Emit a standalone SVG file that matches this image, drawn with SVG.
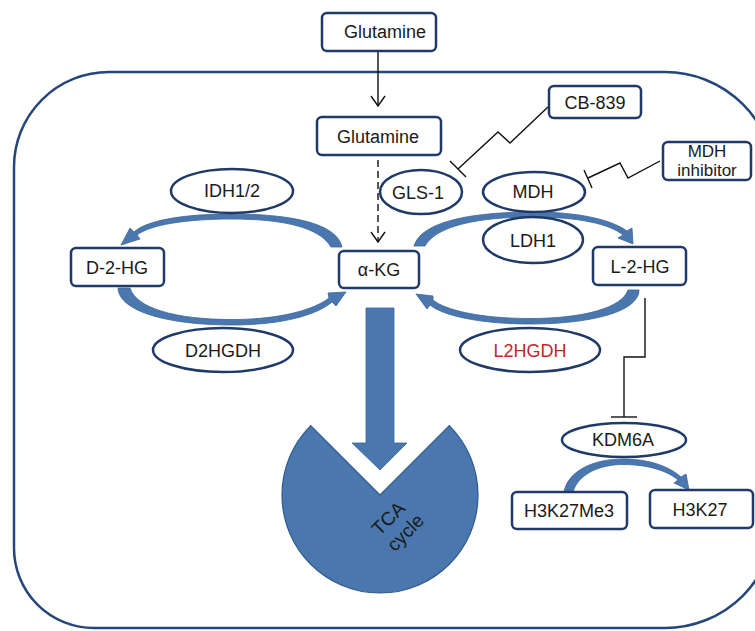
<svg xmlns="http://www.w3.org/2000/svg" width="755" height="631" viewBox="0 0 755 631">
<defs>
<style>
.box{fill:#fff;stroke:#1f3a68;stroke-width:2.5}
.ell{fill:#fff;stroke:#1f3a68;stroke-width:2.5}
.t{font-family:"Liberation Sans",Arial,sans-serif;font-size:18px;fill:#1a1a1a;text-anchor:middle}
.s{font-size:17px}
.red{fill:#c0272d}
.blue{fill:#4a78ae;stroke:#3a659a;stroke-width:0.8}
.ln{fill:none;stroke:#111;stroke-width:1.4}
</style>
</defs>
<rect width="755" height="631" fill="#fff"/>
<!-- cell -->
<path d="M14 167 A95 95 0 0 1 109 72 L665 72 A110 110 0 0 1 775 182 L775 518 A110 110 0 0 1 665 628 L94 628 A80 80 0 0 1 14 548 Z" fill="none" stroke="#24467a" stroke-width="2.5"/>

<g id="connectors">
  <line class="ln" x1="378" y1="51" x2="378" y2="106"/>
  <polyline class="ln" points="371,96 378,106 385,96"/>
  <line class="ln" x1="378" y1="160" x2="378" y2="242" stroke-dasharray="7,4"/>
  <polyline class="ln" points="371,232 378,242 385,232"/>
  <!-- CB-839 inhibition -->
  <polyline class="ln" points="548,107 510,143 498,132 458,169"/>
  <line class="ln" x1="450" y1="161" x2="466" y2="177"/>
  <!-- MDH inhibitor -->
  <polyline class="ln" points="660,161 628,178 620,163 588,178"/>
  <line class="ln" x1="584" y1="170" x2="592" y2="188"/>
  <!-- L-2-HG to KDM6A -->
  <polyline class="ln" points="645,298 645,357 624,357 624,417"/>
  <line class="ln" x1="611" y1="417" x2="637" y2="417" stroke-width="1.8"/>
  <!-- blue curved arrows -->
  <path class="blue" d="M342 247 C337 223 290 214 232 214 C180 214 146 221 134 232 L130 228 L121 245 L140 239 L137 235 C150 225 185 219 232 219 C285 219 320 228 331 247 Z"/>
  <path class="blue" d="M118 288 C119 312 170 325 232 325 C285 325 318 314 332 302 L336 306 L346 292 L328 293 L329 298 C315 309 282 319.5 232 319.5 C175 319.5 136 308 130 288 Z"/>
  <path class="blue" d="M414 246 C421 222 470 212 533 212 C580 212 612 220 627 231 L632 228 L633 244 L618 238 L623 235 C610 224 578 217 533 217 C478 217 436 226 425 246 Z"/>
  <path class="blue" d="M639 290 C639 312 590 324 530 324 C478 324 442 315 430 305 L427 309 L416 294 L433 296 L433 300 C445 310 480 318.5 530 318.5 C583 318.5 622 308 628 290 Z"/>
  <path class="blue" d="M564 492 C568 470 595 459 623 459 C650 459 670 467 681 477 L686 474 L689 490 L674 483 L678 480 C668 471 648 464.5 623 464.5 C600 464.5 578 474 573 492 Z"/>
  <!-- big arrow to TCA -->
  <path class="blue" d="M366 308 L394 308 L394 443 L407 443 L380 470 L352 443 L366 443 Z"/>
</g>

<g id="tca">
  <path d="M380 495 L310.7 425.7 A98 98 0 1 0 449.3 425.7 Z" fill="#4a78ae" stroke="#2f5a8c" stroke-width="1.2"/>
  <g transform="rotate(-45 398 528)">
    <text class="t" x="398" y="521" style="font-size:19px">TCA</text>
    <text class="t" x="400" y="543" style="font-size:19px">cycle</text>
  </g>
</g>

<g id="glutamine-ext"><rect class="box" x="322" y="13" width="114" height="38" rx="5"/><text class="t" x="385" y="38">Glutamine</text></g>
<g id="glutamine-int"><rect class="box" x="317" y="117" width="124" height="38" rx="5"/><text class="t" x="378" y="143">Glutamine</text></g>
<g id="cb839"><rect class="box" x="549" y="86" width="92" height="32" rx="5"/><text class="t" x="595" y="109">CB-839</text></g>
<g id="mdh-inhibitor"><rect class="box" x="663" y="142" width="88" height="38" rx="5"/><text class="t s" x="707" y="157">MDH</text><text class="t s" x="707" y="176">inhibitor</text></g>
<g id="idh"><ellipse class="ell" cx="232" cy="191" rx="61" ry="22"/><text class="t" x="232" y="197">IDH1/2</text></g>
<g id="gls1"><ellipse class="ell" cx="421" cy="192" rx="41" ry="22"/><text class="t" x="418" y="199">GLS-1</text></g>
<g id="mdh"><ellipse class="ell" cx="534" cy="192" rx="51" ry="20"/><text class="t" x="533" y="198">MDH</text></g>
<g id="ldh1"><ellipse class="ell" cx="533" cy="240" rx="50" ry="23"/><text class="t" x="533" y="247">LDH1</text></g>
<g id="d2hg"><rect class="box" x="71" y="248" width="93" height="38" rx="5"/><text class="t" x="117" y="274">D-2-HG</text></g>
<g id="akg"><rect class="box" x="339" y="251" width="80" height="37" rx="5"/><text class="t" x="379" y="276">α-KG</text></g>
<g id="l2hg"><rect class="box" x="593" y="247" width="93" height="38" rx="5"/><text class="t" x="640" y="273">L-2-HG</text></g>
<g id="d2hgdh"><ellipse class="ell" cx="223" cy="350" rx="70" ry="22"/><text class="t" x="223" y="357">D2HGDH</text></g>
<g id="l2hgdh"><ellipse class="ell" cx="530" cy="350" rx="70" ry="22"/><text class="t red" x="530" y="357">L2HGDH</text></g>
<g id="kdm6a"><ellipse class="ell" cx="624" cy="440" rx="62" ry="17"/><text class="t" x="623" y="446">KDM6A</text></g>
<g id="h3k27me3"><rect class="box" x="512" y="492" width="115" height="37" rx="5"/><text class="t" x="569" y="517">H3K27Me3</text></g>
<g id="h3k27"><rect class="box" x="650" y="490" width="103" height="38" rx="5"/><text class="t" x="700" y="516">H3K27</text></g>
</svg>
